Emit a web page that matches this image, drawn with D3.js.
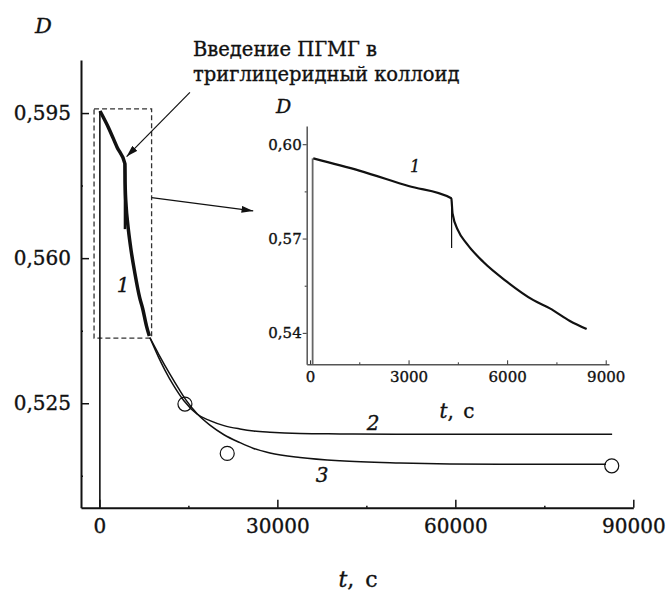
<!DOCTYPE html>
<html>
<head>
<meta charset="utf-8">
<script src="https://cdn.jsdelivr.net/npm/d3@7"></script>
<style>
  body { margin: 0; background: #fff; }
  svg text { font-family: "DejaVu Serif", serif; fill: #111; stroke: #111; stroke-width: 0.35px; }
</style>
</head>
<body>
<div id="chart"></div>
<script>

  // curve 1 : measured D(t) before and after adding the polymer
  var curve1T = [100, 1500, 3000, 4300, 4340, 4510, 4770, 5270, 5990, 6800, 7300, 7910, 8420];
  var curve1D = [0.5955, 0.5916, 0.5867, 0.5828, 0.5779, 0.5725, 0.5684, 0.5626, 0.5563, 0.5504, 0.5478, 0.5438, 0.5412];
  var spikeT = 4310, spikeTop = 0.5828, spikeBottom = 0.5670;
  var startT = 80, startD = 0.5955;

  // curves 2 and 3 (long time)
  var curve2T = [8515, 10000, 11045, 12500, 14250, 16440, 18630, 21000, 23690, 26000, 28750, 33810, 40560, 50000, 86430];
  var curve2D = [0.5408, 0.5360, 0.5330, 0.5293, 0.5256, 0.5224, 0.5208, 0.5196, 0.5188, 0.5183, 0.5180, 0.5177, 0.5176, 0.5175, 0.5175];
  var curve3T = [8515, 10000, 11890, 13500, 14580, 16440, 18630, 21000, 23690, 26000, 28750, 33810, 40560, 50660, 67520, 85400];
  var curve3D = [0.5408, 0.5368, 0.5320, 0.5282, 0.5258, 0.5225, 0.5197, 0.5174, 0.5155, 0.5141, 0.5130, 0.5119, 0.5111, 0.5106, 0.5103, 0.5103];

  // open circles
  var pointT = [14420, 21550, 86370];
  var pointD = [0.5248, 0.5129, 0.5099];

  // ticks
  var mainXTicks = [0, 30000, 60000, 90000];
  var mainXMinor = [15000, 45000, 75000];
  var mainYTicks = [0.525, 0.560, 0.595];
  var mainYMinor = [0.5075, 0.5425, 0.5775];
  var insetXTicks = [0, 3000, 6000, 9000];
  var insetXMinor = [1500, 4500, 7500];
  var insetYTicks = [0.54, 0.57, 0.60];
  var insetYMinor = [0.555, 0.585];

  var zoomBox = { t0: -900, t1: 8800, d0: 0.5407, d1: 0.5960 };

  var width = 668, height = 592;

  var svg = d3.select("#chart").append("svg")
    .attr("width", width)
    .attr("height", height);

  var defs = svg.append("defs");
  defs.append("marker")
    .attr("id", "arrow")
    .attr("viewBox", "0 0 10 6")
    .attr("refX", 10).attr("refY", 3)
    .attr("markerWidth", 12).attr("markerHeight", 7)
    .attr("markerUnits", "userSpaceOnUse")
    .attr("orient", "auto")
    .append("path")
    .attr("d", "M0,0 L10,3 L0,6 Z")
    .attr("fill", "#111");

  function zip(ts, ds) { return ts.map(function(t, i) { return [t, ds[i]]; }); }

  //=====================================================================
  // main chart
  //=====================================================================
  var x = d3.scaleLinear().domain([-3100, 90000]).range([81, 633.3]);
  var y = d3.scaleLinear().domain([0.4998, 0.6078]).range([507.7, 60]);

  var gx = svg.append("g").attr("transform", "translate(0," + y.range()[0] + ")")
    .call(d3.axisBottom(x).tickValues(mainXTicks).tickSize(-8).tickPadding(11)
      .tickFormat(d3.format("d")).tickSizeOuter(0));
  svg.append("g").attr("transform", "translate(0," + y.range()[0] + ")")
    .call(d3.axisBottom(x).tickValues(mainXMinor).tickSize(-2).tickFormat("").tickSizeOuter(0))
    .select(".domain").remove();

  var gy = svg.append("g").attr("transform", "translate(" + x.range()[0] + ",0)")
    .call(d3.axisLeft(y).tickValues(mainYTicks).tickSize(-8).tickPadding(10)
      .tickFormat(function(d) { return d3.format(".3f")(d).replace(".", ","); }).tickSizeOuter(0));
  svg.append("g").attr("transform", "translate(" + x.range()[0] + ",0)")
    .call(d3.axisLeft(y).tickValues(mainYMinor).tickSize(-2).tickFormat("").tickSizeOuter(0))
    .select(".domain").remove();

  svg.selectAll(".domain").attr("stroke", "#111").attr("stroke-width", 2);
  svg.selectAll(".tick line").attr("stroke", "#111").attr("stroke-width", 1.5);
  gx.selectAll("text").style("font-size", "20px").attr("fill", "#111");
  gy.selectAll("text").style("font-size", "20px").attr("fill", "#111");

  // dashed zoom rectangle
  svg.append("rect")
    .attr("x", x(zoomBox.t0)).attr("y", y(zoomBox.d1))
    .attr("width", x(zoomBox.t1) - x(zoomBox.t0))
    .attr("height", y(zoomBox.d0) - y(zoomBox.d1))
    .attr("fill", "none").attr("stroke", "#333").attr("stroke-width", 1.3)
    .attr("stroke-dasharray", "5,3");

  // vertical start line
  svg.append("line")
    .attr("x1", x(startT)).attr("x2", x(startT))
    .attr("y1", y.range()[0]).attr("y2", y(startD))
    .attr("stroke", "#111").attr("stroke-width", 1.6);

  var smooth = d3.line().curve(d3.curveMonotoneX)
    .x(function(d) { return x(d[0]); }).y(function(d) { return y(d[1]); });

  svg.append("path").datum(zip(curve2T, curve2D)).attr("d", smooth)
    .attr("fill", "none").attr("stroke", "#111").attr("stroke-width", 1.5);
  svg.append("path").datum(zip(curve3T, curve3D)).attr("d", smooth)
    .attr("fill", "none").attr("stroke", "#111").attr("stroke-width", 1.5);

  svg.append("path").datum(zip(curve1T, curve1D)).attr("d", smooth)
    .attr("fill", "none").attr("stroke", "#111").attr("stroke-width", 3.5)
    .attr("stroke-linejoin", "round");
  svg.append("line")
    .attr("x1", x(spikeT)).attr("x2", x(spikeT))
    .attr("y1", y(spikeTop)).attr("y2", y(spikeBottom))
    .attr("stroke", "#111").attr("stroke-width", 2.5);

  svg.selectAll(".pt").data(zip(pointT, pointD)).enter().append("circle")
    .attr("cx", function(d) { return x(d[0]); })
    .attr("cy", function(d) { return y(d[1]); })
    .attr("r", 7)
    .attr("fill", "none").attr("stroke", "#111").attr("stroke-width", 1.2);

  // labels
  svg.append("text").attr("x", 35).attr("y", 33).style("font-size", "21px")
    .style("font-style", "italic").text("D");
  svg.append("text").attr("x", 123).attr("y", 292).attr("text-anchor", "middle")
    .style("font-size", "20px").style("font-style", "italic").text("1");
  svg.append("text").attr("x", 373).attr("y", 430).attr("text-anchor", "middle")
    .style("font-size", "20px").style("font-style", "italic").text("2");
  svg.append("text").attr("x", 322).attr("y", 482).attr("text-anchor", "middle")
    .style("font-size", "20px").style("font-style", "italic").text("3");

  var tLabel = svg.append("text").attr("x", 358).attr("y", 587).attr("text-anchor", "middle")
    .style("font-size", "22px");
  tLabel.append("tspan").style("font-style", "italic").text("t");
  tLabel.append("tspan").text(", ");
  tLabel.append("tspan").attr("dx", 4).text("с");

  // annotation
  svg.append("text").attr("x", 193).attr("y", 56).style("font-size", "19.5px")
    .text("Введение ПГМГ в");
  svg.append("text").attr("x", 193).attr("y", 81).style("font-size", "19.5px")
    .text("триглицеридный коллоид");
  svg.append("line")
    .attr("x1", x(15260)).attr("y1", y(0.6000))
    .attr("x2", x(4590)).attr("y2", y(0.5845))
    .attr("stroke", "#111").attr("stroke-width", 1.2)
    .attr("marker-end", "url(#arrow)");
  svg.append("line")
    .attr("x1", x(zoomBox.t1)).attr("y1", y(0.5746))
    .attr("x2", x(25930)).attr("y2", y(0.5714))
    .attr("stroke", "#111").attr("stroke-width", 1.2)
    .attr("marker-end", "url(#arrow)");

  //=====================================================================
  // inset
  //=====================================================================
  var xi = d3.scaleLinear().domain([-100, 9100]).range([306.7, 609]);
  var yi = d3.scaleLinear().domain([0.53, 0.6058]).range([364.3, 126]);

  var inset = svg.append("g").attr("class", "inset");

  var gxi = inset.append("g").attr("transform", "translate(0," + yi.range()[0] + ")")
    .call(d3.axisBottom(xi).tickValues(insetXTicks).tickSize(-4).tickPadding(7)
      .tickFormat(d3.format("d")).tickSizeOuter(0));
  inset.append("g").attr("transform", "translate(0," + yi.range()[0] + ")")
    .call(d3.axisBottom(xi).tickValues(insetXMinor).tickSize(-2).tickFormat("").tickSizeOuter(0))
    .select(".domain").remove();
  var gyi = inset.append("g").attr("transform", "translate(" + xi.range()[0] + ",0)")
    .call(d3.axisLeft(yi).tickValues(insetYTicks).tickSize(4).tickPadding(1)
      .tickFormat(function(d) { return d3.format(".2f")(d).replace(".", ","); }).tickSizeOuter(0));
  inset.append("g").attr("transform", "translate(" + xi.range()[0] + ",0)")
    .call(d3.axisLeft(yi).tickValues(insetYMinor).tickSize(2).tickFormat("").tickSizeOuter(0))
    .select(".domain").remove();

  inset.selectAll(".domain").attr("stroke", "#555").attr("stroke-width", 1.5);
  inset.selectAll(".tick line").attr("stroke", "#333").attr("stroke-width", 1);
  gxi.selectAll("text").style("font-size", "15px").attr("fill", "#111");
  gyi.selectAll("text").style("font-size", "15px").attr("fill", "#111");

  inset.append("line")
    .attr("x1", xi(startT)).attr("x2", xi(startT))
    .attr("y1", yi.range()[0]).attr("y2", yi(startD))
    .attr("stroke", "#666").attr("stroke-width", 1.8);

  var smoothi = d3.line().curve(d3.curveMonotoneX)
    .x(function(d) { return xi(d[0]); }).y(function(d) { return yi(d[1]); });
  inset.append("path").datum(zip(curve1T, curve1D)).attr("d", smoothi)
    .attr("fill", "none").attr("stroke", "#111").attr("stroke-width", 2.2)
    .attr("stroke-linejoin", "round");
  inset.append("line")
    .attr("x1", xi(spikeT)).attr("x2", xi(spikeT))
    .attr("y1", yi(spikeTop)).attr("y2", yi(spikeBottom))
    .attr("stroke", "#111").attr("stroke-width", 1.2);

  inset.append("text").attr("x", 276).attr("y", 113).style("font-size", "19px")
    .style("font-style", "italic").text("D");
  inset.append("text").attr("x", 415).attr("y", 172).attr("text-anchor", "middle")
    .style("font-size", "16px").style("font-style", "italic").text("1");
  var tLabelI = inset.append("text").attr("x", 457).attr("y", 418).attr("text-anchor", "middle")
    .style("font-size", "20px");
  tLabelI.append("tspan").style("font-style", "italic").text("t");
  tLabelI.append("tspan").text(", ");
  tLabelI.append("tspan").attr("dx", 3).text("с");

</script>
</body>
</html>
